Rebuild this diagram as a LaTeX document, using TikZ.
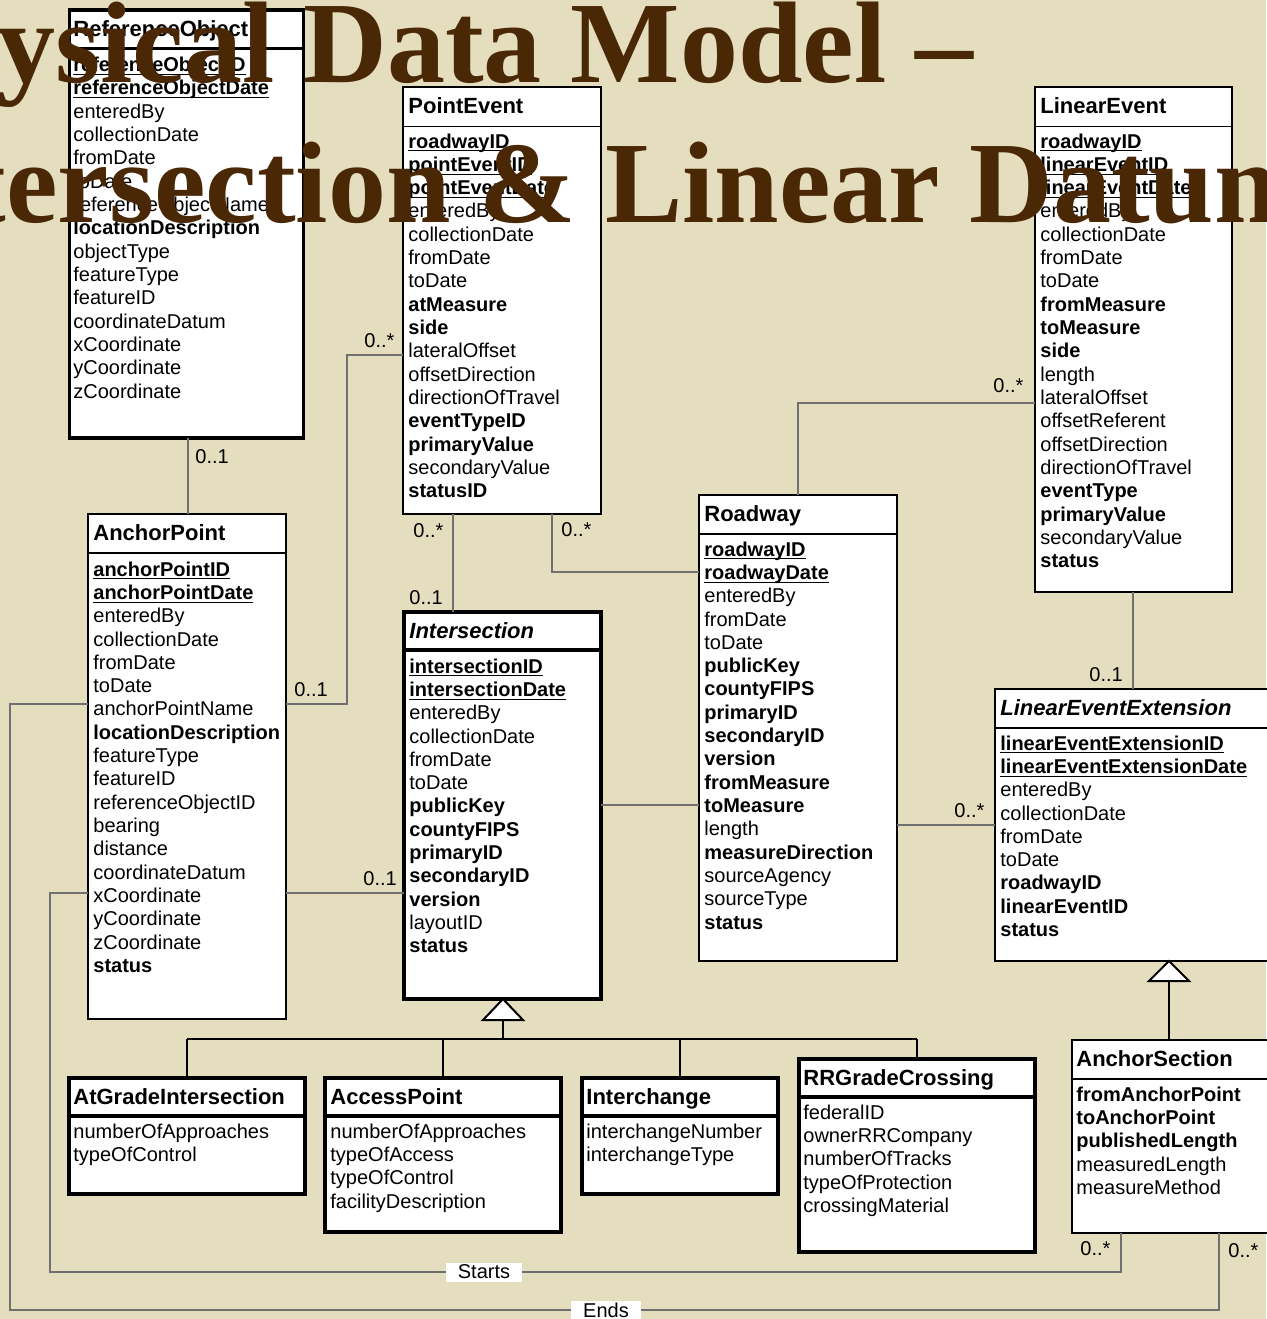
\documentclass[tikz,border=0pt]{standalone}
\usepackage{fontspec}
\setmainfont{Liberation Sans}
\newfontfamily\titlefont{Liberation Serif}
\definecolor{parch}{RGB}{228,221,190}
\definecolor{titlebrown}{RGB}{74,40,6}
\definecolor{conn}{RGB}{112,112,112}
\newcommand{\ulx}[1]{\setbox0\hbox{#1}\rlap{\rule[-1.7pt]{\wd0}{0.55pt}}\box0}
\newcommand{\U}[1]{\ulx{\bfseries #1}}
\newcommand{\B}[1]{\textbf{#1}}
\tikzset{
 thinbox/.style={draw=black, fill=white, line width=0.7pt, inner sep=0pt, outer sep=0pt},
 thickbox/.style={draw=black, fill=white, line width=1.8pt, inner sep=0pt, outer sep=0pt},
 thindiv/.style={draw=black, line width=0.7pt},
 thickdiv/.style={draw=black, line width=1.8pt},
 ctitle/.style={anchor=base west, inner sep=0pt, font=\fontsize{11}{13}\selectfont\bfseries},
 attr/.style={anchor=base west, inner sep=0pt, font=\fontsize{10}{12}\selectfont},
 mult/.style={anchor=base west, inner sep=0pt, font=\fontsize{10}{12}\selectfont},
 assoc/.style={draw=conn, line width=1.1pt},
 gen/.style={draw=black, line width=1.2pt},
 rolelabel/.style={fill=white, inner xsep=6pt, inner ysep=0pt, minimum height=9.5pt, font=\fontsize{10}{12}\selectfont},
 bigtitle/.style={anchor=base west, inner sep=0pt, text=titlebrown, font=\titlefont\bfseries\fontsize{58}{70}\selectfont},
}
\newcommand{\classbox}[6]{%
 \node[#2, anchor=north west, minimum width={(#5-#3)*0.5pt}, minimum height={(#6-#4)*0.5pt}] (#1) at (#3,#4) {};}
\newcommand{\divider}[3]{\draw[#2] (#1.west |- 0,#3) -- (#1.east |- 0,#3);}
\newcommand{\attrlist}[4]{%
 \foreach \aitem [count=\i] in {#4} {\node[attr] (#1-a\i) at ({#2},{#3+23.33*(\i-1)}) {\aitem};}}
\begin{document}
\begin{tikzpicture}[x=0.5pt,y=-0.5pt]
\useasboundingbox (0,0) rectangle (1266,1319);
\fill[parch] (0,0) rectangle (1266,1319);

% ReferenceObject
\classbox{ro}{thickbox}{69.5}{10}{303.5}{438}
\divider{ro}{thickdiv}{48.5}
\node[ctitle] (ro-t) at (73,36) {ReferenceObject};
\attrlist{ro}{73}{71.5}{\U{referenceObjectID}, \U{referenceObjectDate}, enteredBy, collectionDate, fromDate, toDate, referenceObjectName, \B{locationDescription}, objectType, featureType, featureID, coordinateDatum, xCoordinate, yCoordinate, zCoordinate}

% PointEvent
\classbox{pe}{thinbox}{403}{87}{601}{514}
\divider{pe}{thindiv}{126.5}
\node[ctitle] (pe-t) at (408,113) {PointEvent};
\attrlist{pe}{408}{148}{\U{roadwayID}, \U{pointEventID}, \U{pointEventDate}, enteredBy, collectionDate, fromDate, toDate, \B{atMeasure}, \B{side}, lateralOffset, offsetDirection, directionOfTravel, \B{eventTypeID}, \B{primaryValue}, secondaryValue, \B{statusID}}

% LinearEvent
\classbox{le}{thinbox}{1035}{87}{1232}{592}
\divider{le}{thindiv}{126.5}
\node[ctitle] (le-t) at (1040,113) {LinearEvent};
\attrlist{le}{1040}{148}{\U{roadwayID}, \U{linearEventID}, \U{linearEventDate}, enteredBy, collectionDate, fromDate, toDate, \B{fromMeasure}, \B{toMeasure}, \B{side}, length, lateralOffset, offsetReferent, offsetDirection, directionOfTravel, \B{eventType}, \B{primaryValue}, secondaryValue, \B{status}}

% AnchorPoint
\classbox{ap}{thinbox}{88}{514}{286}{1019}
\divider{ap}{thindiv}{553}
\node[ctitle] (ap-t) at (93,540) {AnchorPoint};
\attrlist{ap}{93}{576}{\U{anchorPointID}, \U{anchorPointDate}, enteredBy, collectionDate, fromDate, toDate, anchorPointName, \B{locationDescription}, featureType, featureID, referenceObjectID, bearing, distance, coordinateDatum, xCoordinate, yCoordinate, zCoordinate, \B{status}}

% Intersection
\classbox{is}{thickbox}{404}{612}{601}{999}
\divider{is}{thickdiv}{650}
\node[ctitle] (is-t) at (409,638) {\itshape Intersection};
\attrlist{is}{409}{673}{\U{intersectionID}, \U{intersectionDate}, enteredBy, collectionDate, fromDate, toDate, \B{publicKey}, \B{countyFIPS}, \B{primaryID}, \B{secondaryID}, \B{version}, layoutID, \B{status}}

% Roadway
\classbox{rw}{thinbox}{699}{495}{897}{961}
\divider{rw}{thindiv}{534}
\node[ctitle] (rw-t) at (704,521) {Roadway};
\attrlist{rw}{704}{556}{\U{roadwayID}, \U{roadwayDate}, enteredBy, fromDate, toDate, \B{publicKey}, \B{countyFIPS}, \B{primaryID}, \B{secondaryID}, \B{version}, \B{fromMeasure}, \B{toMeasure}, length, \B{measureDirection}, sourceAgency, sourceType, \B{status}}

% LinearEventExtension
\classbox{lee}{thinbox}{995}{689}{1290}{961}
\divider{lee}{thindiv}{728}
\node[ctitle] (lee-t) at (1000,715) {\itshape LinearEventExtension};
\attrlist{lee}{1000}{750}{\U{linearEventExtensionID}, \U{linearEventExtensionDate}, enteredBy, collectionDate, fromDate, toDate, \B{roadwayID}, \B{linearEventID}, \B{status}}

% AnchorSection
\classbox{as}{thinbox}{1072}{1040}{1290}{1233}
\divider{as}{thindiv}{1079}
\node[ctitle] (as-t) at (1076,1066) {AnchorSection};
\attrlist{as}{1076}{1101}{\B{fromAnchorPoint}, \B{toAnchorPoint}, \B{publishedLength}, measuredLength, measureMethod}

% AtGradeIntersection
\classbox{ag}{thickbox}{69}{1078}{305}{1194}
\divider{ag}{thickdiv}{1116}
\node[ctitle] (ag-t) at (73,1104) {AtGradeIntersection};
\attrlist{ag}{73}{1138}{numberOfApproaches, typeOfControl}

% AccessPoint
\classbox{acc}{thickbox}{325}{1078}{561}{1232}
\divider{acc}{thickdiv}{1116}
\node[ctitle] (acc-t) at (330,1104) {AccessPoint};
\attrlist{acc}{330}{1138}{numberOfApproaches, typeOfAccess, typeOfControl, facilityDescription}

% Interchange
\classbox{ic}{thickbox}{582}{1078}{778}{1194}
\divider{ic}{thickdiv}{1116}
\node[ctitle] (ic-t) at (586,1104) {Interchange};
\attrlist{ic}{586}{1138}{interchangeNumber, interchangeType}

% RRGradeCrossing
\classbox{rr}{thickbox}{799}{1059}{1035}{1252}
\divider{rr}{thickdiv}{1097}
\node[ctitle] (rr-t) at (803,1085) {RRGradeCrossing};
\attrlist{rr}{803}{1119}{federalID, ownerRRCompany, numberOfTracks, typeOfProtection, crossingMaterial}

% Associations
\draw[assoc] (188,0 |- ro.south) -- (188,0 |- ap.north);
\draw[assoc] (ap.east |- 0,704) -- (347,704) -- (347,355) -- (pe.west |- 0,355);
\draw[assoc] (453,0 |- pe.south) -- (453,0 |- is.north);
\draw[assoc] (552,0 |- pe.south) -- (552,572) -- (rw.west |- 0,572);
\draw[assoc] (is.east |- 0,805) -- (rw.west |- 0,805);
\draw[assoc] (ap.east |- 0,893) -- (is.west |- 0,893);
\draw[assoc] (le.west |- 0,403) -- (798,403) -- (798,0 |- rw.north);
\draw[assoc] (1133,0 |- le.south) -- (1133,0 |- lee.north);
\draw[assoc] (rw.east |- 0,825) -- (lee.west |- 0,825);
\draw[assoc] (ap.west |- 0,893) -- (50,893) -- (50,1272) -- (1121,1272) -- (1121,0 |- as.south);
\draw[assoc] (ap.west |- 0,704) -- (10,704) -- (10,1310) -- (1219,1310) -- (1219,0 |- as.south);
\node[rolelabel] (starts) at (484,1272) {Starts};
\node[rolelabel] (ends) at (606,1310) {Ends};

% Multiplicities
\node[mult] (m1) at (195,463) {0..1};
\node[mult] (m2) at (294,696) {0..1};
\node[mult] (m3) at (364,347) {0..*};
\node[mult] (m4) at (413,537) {0..*};
\node[mult] (m5) at (409,604) {0..1};
\node[mult] (m6) at (561,536) {0..*};
\node[mult] (m7) at (363,885) {0..1};
\node[mult] (m8) at (993,392) {0..*};
\node[mult] (m9) at (1089,681) {0..1};
\node[mult] (m10) at (954,817) {0..*};
\node[mult] (m11) at (1080,1255) {0..*};
\node[mult] (m12) at (1228,1257) {0..*};

% Generalizations
\coordinate (g1) at (503,1020);
\coordinate (g2) at (1169,981);
\draw[gen] (g1) -- (503,1039);
\draw[gen] (187,1039) -- (917,1039);
\draw[gen] (187,1039) -- (187,0 |- ag.north);
\draw[gen] (443,1039) -- (443,0 |- acc.north);
\draw[gen] (680,1039) -- (680,0 |- ic.north);
\draw[gen] (917,1039) -- (917,0 |- rr.north);
\draw[gen, fill=white, line width=1pt] (503,0 |- is.south) -- (483,1020) -- (523,1020) -- cycle;
\draw[gen] (g2) -- (1169,0 |- as.north);
\draw[gen, fill=white, line width=1pt] (1169,0 |- lee.south) -- (1149,981) -- (1189,981) -- cycle;

% Slide title
\node[bigtitle] (title1) at (-3,82) {ysical Data Model –};
\node[bigtitle] (title2) at (-33,222) {tersection \& Linear Datum};
\end{tikzpicture}
\end{document}
